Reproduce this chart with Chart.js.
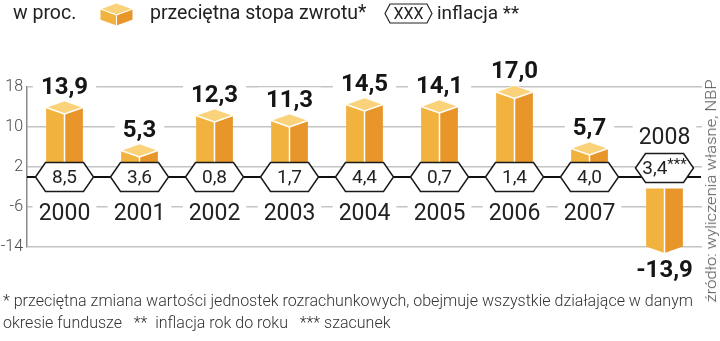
<!DOCTYPE html>
<html><head><meta charset="utf-8">
<script src="https://cdn.jsdelivr.net/npm/chart.js@4/dist/chart.umd.min.js"></script>
<style>
html,body{margin:0;padding:0;background:#fff;}
#wrap{position:relative;width:720px;height:341px;overflow:hidden;font-family:Roboto,'Noto Sans',sans-serif;color:#222;}
#c{position:absolute;left:0;top:0;}
.abs{position:absolute;white-space:pre;line-height:1;}
</style></head><body>
<div id="wrap">
<canvas id="c" width="720" height="341"></canvas>
<div class="abs" style="left:13px;top:3px;font-size:19.5px;">w proc.</div>
<svg class="abs" style="left:99px;top:2px" width="36" height="25">
  <polygon points="1,7 17.5,1 34,7 17.5,13" fill="#F9D27A" stroke="#fff" stroke-width="1"/>
  <polygon points="1,7 17.5,13 17.5,24 1,18" fill="#F2B23E" stroke="#fff" stroke-width="1"/>
  <polygon points="17.5,13 34,7 34,18 17.5,24" fill="#E8952A" stroke="#fff" stroke-width="1"/>
</svg>
<div class="abs" style="left:150px;top:3px;font-size:19.5px;">przeciętna stopa zwrotu*</div>
<svg class="abs" style="left:384px;top:2px" width="50" height="23">
  <polygon points="1,11.5 6,2 43,2 48,11.5 43,21 6,21" fill="#fff" stroke="#222" stroke-width="1.2"/>
  <text x="24.5" y="17" text-anchor="middle" font-family="Roboto" font-size="16" fill="#222">XXX</text>
</svg>
<div class="abs" style="left:437px;top:3px;font-size:19px;">inflacja **</div>
<div class="abs" id="foot" style="left:3px;top:289px;font-size:17px;font-weight:300;color:#333;line-height:22px;transform-origin:0 0;">* przeciętna zmiana wartości jednostek rozrachunkowych, obejmuje wszystkie działające w danym
okresie fundusze   **  inflacja rok do roku   *** szacunek</div>
<div class="abs" id="src" style="left:596px;top:182px;width:230px;height:18px;text-align:center;font-size:15px;font-weight:300;color:#555;line-height:18px;transform-origin:50% 50%;"><span id="srct">źródło: wyliczenia własne, NBP</span></div>
</div>
<script>
const categories = ['2000','2001','2002','2003','2004','2005','2006','2007','2008'];
const returns = [13.9, 5.3, 12.3, 11.3, 14.5, 14.1, 17.0, 5.7, -13.9];
const inflation = [8.5, 3.6, 0.8, 1.7, 4.4, 0.7, 1.4, 4.0, 3.4];
const inflationNotes = ['', '', '', '', '', '', '', '', '***'];
const yTicks = [18, 10, 2, -6, -14];

const fmt = v => v.toFixed(1).replace('.', ',');
const COL = { left: '#F2B23E', right: '#E8952A', top: '#F9D27A' };
const FONT = 'Roboto, "Noto Sans", sans-serif';

function hexPath(ctx, cx, cy, hw, hh, p) {
  ctx.beginPath();
  ctx.moveTo(cx - hw, cy);
  ctx.lineTo(cx - hw + p, cy - hh);
  ctx.lineTo(cx + hw - p, cy - hh);
  ctx.lineTo(cx + hw, cy);
  ctx.lineTo(cx + hw - p, cy + hh);
  ctx.lineTo(cx - hw + p, cy + hh);
  ctx.closePath();
}
function poly(ctx, pts, fill) {
  ctx.beginPath();
  ctx.moveTo(pts[0][0], pts[0][1]);
  for (let i = 1; i < pts.length; i++) ctx.lineTo(pts[i][0], pts[i][1]);
  ctx.closePath();
  ctx.fillStyle = fill; ctx.fill();
}
function label(ctx, text, cx, cy, font, color, pad) {
  ctx.font = font;
  const tw = ctx.measureText(text).width;
  ctx.fillStyle = '#fff';
  ctx.fillRect(cx - tw / 2 - pad, cy - 12, tw + 2 * pad, 24);
  ctx.fillStyle = color;
  ctx.textAlign = 'center'; ctx.textBaseline = 'middle';
  ctx.fillText(text, cx, cy + 1);
}

const custom = {
  id: 'custom3d',
  beforeDatasetsDraw(chart) {
    const { ctx, chartArea, scales: { y } } = chart;
    const y0 = y.getPixelForValue(0);
    ctx.save();
    ctx.strokeStyle = '#111'; ctx.lineWidth = 2.2;
    ctx.beginPath(); ctx.moveTo(chartArea.left, y0); ctx.lineTo(chartArea.right - 1, y0); ctx.stroke();
    ctx.restore();
  },
  afterDatasetsDraw(chart) {
    const { ctx, scales: { y } } = chart;
    const y0 = y.getPixelForValue(0);
    const meta = chart.getDatasetMeta(0);
    const d = 6.5, hh = 14.5, hw = 29, hp = 10;
    ctx.save();
    meta.data.forEach((bar, i) => {
      const p = bar.getProps(['x', 'y', 'width'], true);
      const x = p.x, vy = p.y, w = p.width;
      const l = x - w / 2, r = x + w / 2;
      const neg = returns[i] < 0;
      const hexCy = neg ? y0 - 9 : y0;
      const start = neg ? hexCy + hh + 6 : y0;
      poly(ctx, [[l, start], [x, start], [x, vy + d], [l, vy]], COL.left);
      poly(ctx, [[x, start], [r, start], [r, vy], [x, vy + d]], COL.right);
      ctx.strokeStyle = '#fff'; ctx.lineWidth = 1.5;
      if (!neg) {
        poly(ctx, [[l, vy], [x, vy - d], [r, vy], [x, vy + d]], COL.top);
        ctx.beginPath();
        ctx.moveTo(l, vy); ctx.lineTo(x, vy + d); ctx.lineTo(r, vy);
        ctx.moveTo(x, vy + d); ctx.lineTo(x, start);
        ctx.stroke();
        ctx.strokeStyle = 'rgba(255,255,255,0.7)'; ctx.lineWidth = 1;
        ctx.beginPath(); ctx.moveTo(l, vy); ctx.lineTo(x, vy - d); ctx.lineTo(r, vy); ctx.stroke();
      } else {
        ctx.beginPath(); ctx.moveTo(x, start); ctx.lineTo(x, vy + d); ctx.stroke();
      }
      hexPath(ctx, x, hexCy, hw, hh, hp);
      ctx.fillStyle = '#fff'; ctx.fill();
      ctx.strokeStyle = '#1a1a1a'; ctx.lineWidth = 1.5; ctx.stroke();
      const main = fmt(inflation[i]);
      const note = inflationNotes[i];
      ctx.font = '19px ' + FONT;
      const mw = ctx.measureText(main).width;
      ctx.font = '15px ' + FONT;
      const nw = note ? ctx.measureText(note).width : 0;
      const sx = x - (mw + nw) / 2;
      ctx.fillStyle = '#222'; ctx.textAlign = 'left'; ctx.textBaseline = 'middle';
      ctx.font = '19px ' + FONT;
      ctx.fillText(main, sx, hexCy + 1);
      if (note) { ctx.font = '15px ' + FONT; ctx.fillText(note, sx + mw, hexCy - 3); }
      const yearY = neg ? hexCy - hh - 16 : y0 + 36;
      label(ctx, categories[i], x, yearY, '23px ' + FONT, '#222', 6);
      const valY = neg ? vy + d + 17 : vy - 21;
      label(ctx, fmt(returns[i]), x, valY, 'bold 24px ' + FONT, '#151515', 8);
    });
    ctx.restore();
  }
};

new Chart(document.getElementById('c'), {
  type: 'bar',
  data: {
    labels: categories,
    datasets: [{ data: returns, backgroundColor: 'rgba(0,0,0,0)', borderWidth: 0,
      barPercentage: 0.49, categoryPercentage: 1 }]
  },
  options: {
    responsive: false, animation: false, devicePixelRatio: 1,
    layout: { padding: { left: 0, right: 18, top: 87, bottom: 94 } },
    plugins: { legend: { display: false }, tooltip: { enabled: false } },
    scales: {
      x: { display: false, offset: true },
      y: {
        min: -14, max: 18,
        afterBuildTicks: s => { s.ticks = yTicks.map(v => ({ value: v })); },
        afterFit: s => { s.width = 27; },
        ticks: { color: '#4a4a4a', padding: 4, font: { family: FONT, size: 16, weight: '300' } },
        grid: { color: '#c4c4c4', lineWidth: 1.5, drawTicks: false },
        border: { color: '#8a8a8a', width: 1.5 }
      }
    }
  },
  plugins: [custom]
});

const foot = document.getElementById('foot');
const probe = document.createElement('span');
probe.style.cssText = 'position:absolute;visibility:hidden;white-space:pre;font-size:17px;font-weight:300;font-family:Roboto,"Noto Sans",sans-serif;';
probe.textContent = '* przeciętna zmiana wartości jednostek rozrachunkowych, obejmuje wszystkie działające w danym';
document.body.appendChild(probe);
const fw = probe.getBoundingClientRect().width;
foot.style.transform = 'scaleX(' + (690 / fw) + ')';
const srct = document.getElementById('srct');
const sw = srct.getBoundingClientRect().width;
document.getElementById('src').style.transform = 'rotate(-90deg) scaleX(' + Math.min(1.2, 223 / sw) + ')';
</script>
</body></html>
